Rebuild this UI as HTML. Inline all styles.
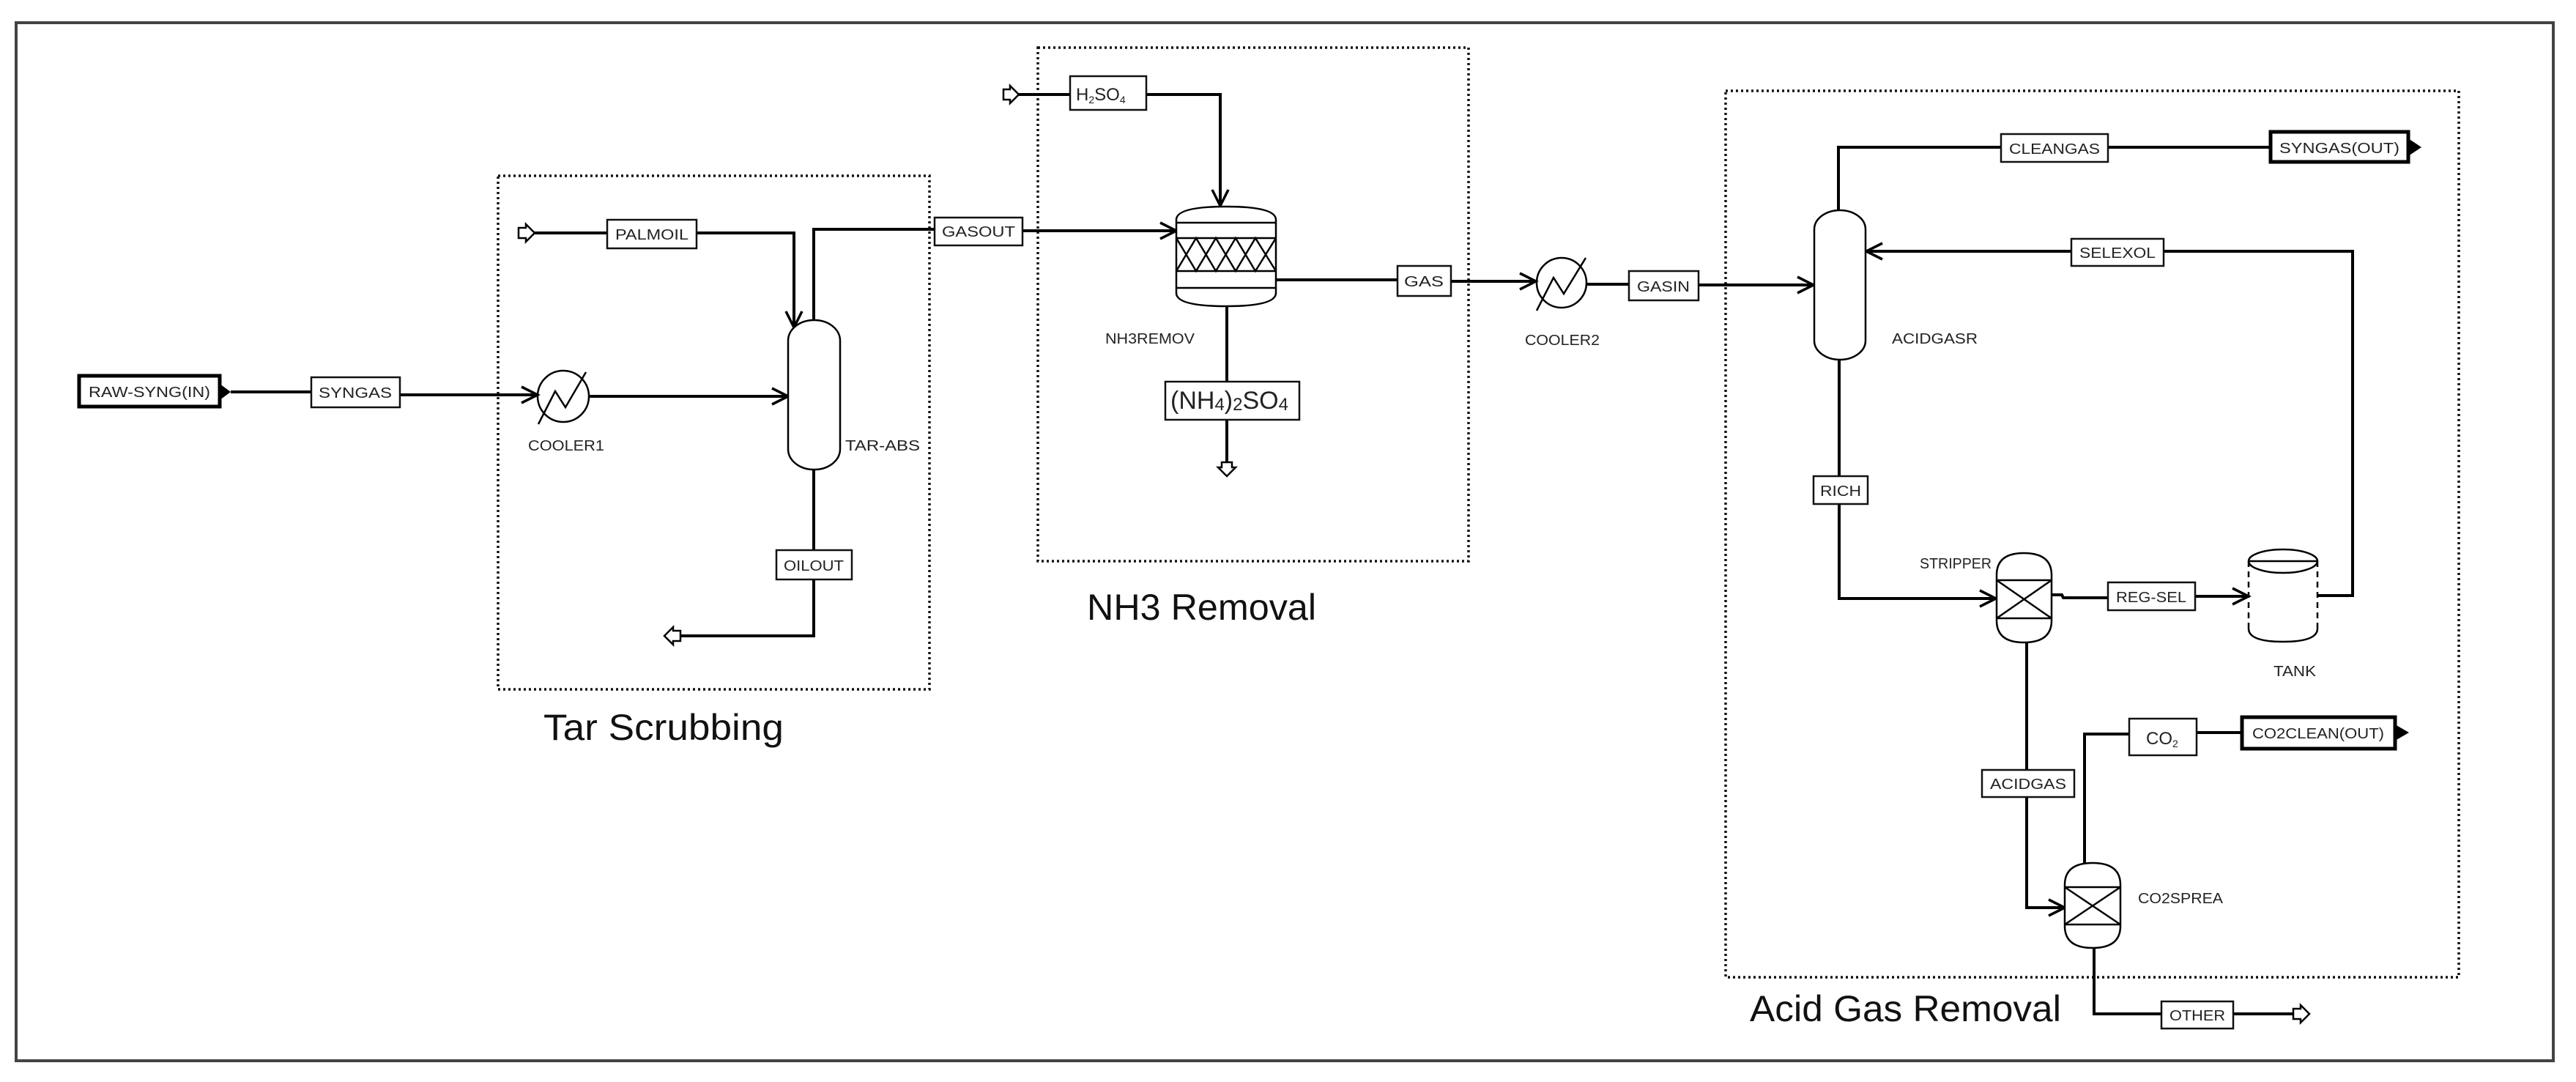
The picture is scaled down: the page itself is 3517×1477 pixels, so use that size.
<!DOCTYPE html>
<html><head><meta charset="utf-8"><style>
html,body{margin:0;padding:0;background:#fff;}
svg{display:block;}
text{font-family:"Liberation Sans",Arial,sans-serif;fill:#222;}
.s{font-size:20px;}
.big{font-size:50px;fill:#111;}
</style></head><body>
<svg width="3517" height="1477" viewBox="0 0 3517 1477" xmlns="http://www.w3.org/2000/svg">
<defs>
<marker id="a" markerWidth="30" markerHeight="30" refX="26" refY="15" orient="auto" markerUnits="userSpaceOnUse">
<path d="M4,4 L26,15 L4,26" fill="none" stroke="#000" stroke-width="3.5"/>
</marker>
</defs>
<rect width="3517" height="1477" fill="#fff"/>
<!-- outer border -->
<rect x="22" y="31" width="3464" height="1417" fill="none" stroke="#444" stroke-width="4"/>
<!-- dashed region boxes -->
<g fill="none" stroke="#111" stroke-width="3.5" stroke-dasharray="3,4">
<rect x="680" y="240" width="589" height="701"/>
<rect x="1417" y="65" width="588" height="701"/>
<rect x="2356" y="124" width="1001" height="1210"/>
</g>
<g stroke="#000" stroke-width="4" fill="none">
<!-- RAW-SYNG -> SYNGAS -> COOLER1 -->
<line x1="315" y1="535" x2="425" y2="535"/>
<line x1="546" y1="539" x2="734" y2="539" marker-end="url(#a)"/>
<line x1="805" y1="541" x2="1076" y2="541" marker-end="url(#a)"/>
<!-- PALMOIL -->
<line x1="730" y1="318" x2="829" y2="318"/>
<polyline points="951,318 1084,318 1084,447" marker-end="url(#a)"/>
<!-- GASOUT -->
<polyline points="1111,437 1111,313 1276,313"/>
<line x1="1396" y1="315" x2="1606" y2="315" marker-end="url(#a)"/>
<!-- OILOUT -->
<polyline points="1111,641 1111,751"/>
<polyline points="1111,791 1111,868 929,868"/>
<!-- H2SO4 -->
<line x1="1390" y1="129" x2="1461" y2="129"/>
<polyline points="1565,129 1666,129 1666,281" marker-end="url(#a)"/>
<!-- GAS -->
<line x1="1742" y1="382" x2="1908" y2="382"/>
<line x1="1981" y1="384" x2="2097" y2="384" marker-end="url(#a)"/>
<line x1="2166" y1="388" x2="2224" y2="388"/>
<line x1="2319" y1="389" x2="2476" y2="389" marker-end="url(#a)"/>
<!-- NH4 bottom -->
<line x1="1675" y1="418" x2="1675" y2="521"/>
<line x1="1675" y1="573" x2="1675" y2="632"/>
<!-- CLEANGAS -->
<polyline points="2510,287 2510,201 2732,201"/>
<line x1="2878" y1="201" x2="3100" y2="201"/>
<!-- SELEXOL -->
<polyline points="3164,813 3212,813 3212,343 2954,343"/>
<line x1="2828" y1="343" x2="2548" y2="343" marker-end="url(#a)"/>
<!-- RICH -->
<line x1="2511" y1="491" x2="2511" y2="650"/>
<polyline points="2511,688 2511,817 2725,817" marker-end="url(#a)"/>
<!-- REG-SEL -->
<polyline points="2801,812 2815,812 2817,816 2878,816"/>
<line x1="2997" y1="814" x2="3070" y2="814" marker-end="url(#a)"/>
<!-- ACIDGAS -->
<line x1="2767" y1="877" x2="2767" y2="1051"/>
<polyline points="2767,1088 2767,1239 2819,1239" marker-end="url(#a)"/>
<!-- CO2 -->
<polyline points="2846,1178 2846,1002 2907,1002"/>
<line x1="2999" y1="1000" x2="3061" y2="1000"/>
<!-- OTHER -->
<polyline points="2859,1294 2859,1384 2951,1384"/>
<line x1="3049" y1="1384" x2="3131" y2="1384"/>
</g>
<!-- hollow feed arrows -->
<g fill="#fff" stroke="#000" stroke-width="2.5">
<path d="M708,311 L718,311 L718,306 L730,318 L718,330 L718,325 L708,325 Z"/>
<path d="M1370,122 L1379,122 L1379,117 L1391,129 L1379,141 L1379,136 L1370,136 Z"/>
<path d="M929,861 L919,861 L919,856 L907,868 L919,880 L919,875 L929,875 Z"/>
<path d="M1668,631 L1668,638 L1663,638 L1675,650 L1687,638 L1682,638 L1682,631 Z"/>
<path d="M3131,1377 L3141,1377 L3141,1372 L3153,1384 L3141,1396 L3141,1391 L3131,1391 Z"/>
</g>
<!-- stream boxes -->
<g fill="#fff" stroke="#111" stroke-width="2.5">
<rect x="425" y="515" width="121" height="41"/>
<rect x="829" y="300" width="122" height="39"/>
<rect x="1276" y="297" width="120" height="38"/>
<rect x="1060" y="751" width="103" height="40"/>
<rect x="1461" y="104" width="104" height="46"/>
<rect x="1591" y="521" width="183" height="52"/>
<rect x="1908" y="363" width="73" height="41"/>
<rect x="2224" y="370" width="95" height="40"/>
<rect x="2732" y="183" width="146" height="38"/>
<rect x="2828" y="326" width="126" height="37"/>
<rect x="2476" y="650" width="74" height="38"/>
<rect x="2878" y="795" width="119" height="38"/>
<rect x="2706" y="1051" width="126" height="37"/>
<rect x="2907" y="981" width="92" height="50"/>
<rect x="2951" y="1367" width="98" height="37"/>
</g>
<!-- terminals -->
<g fill="#fff" stroke="#000" stroke-width="5">
<rect x="108" y="513" width="192" height="42"/>
<rect x="3100" y="180" width="188" height="41"/>
<rect x="3061" y="979" width="209" height="43"/>
</g>
<g fill="#000">
<path d="M300,524 L315,535 L300,546 Z"/>
<path d="M3288,189 L3306,201 L3288,213 Z"/>
<path d="M3270,989 L3289,1000 L3270,1011 Z"/>
</g>
<!-- coolers -->
<g fill="none" stroke="#000" stroke-width="2.5">
<circle cx="769" cy="541" r="35"/>
<polyline points="735,579 758,534 772,556 800,508"/>
<circle cx="2132" cy="386" r="34"/>
<polyline points="2098,424 2121,379 2135,401 2165,352"/>
</g>
<!-- columns -->
<g fill="#fff" stroke="#000" stroke-width="2.5">
<rect x="1076" y="437" width="71" height="204" rx="35" ry="28"/>
<rect x="2477" y="287" width="70" height="204" rx="35" ry="26"/>
</g>
<!-- NH3 reactor -->
<g fill="#fff" stroke="#000" stroke-width="2.5">
<path d="M1606,300 Q1606,282 1674,282 Q1742,282 1742,300 L1742,400 Q1742,418 1674,418 Q1606,418 1606,400 Z"/>
<line x1="1606" y1="304" x2="1742" y2="304"/>
<line x1="1606" y1="325" x2="1742" y2="325"/>
<line x1="1606" y1="370" x2="1742" y2="370"/>
<line x1="1606" y1="393" x2="1742" y2="393"/>
<polyline fill="none" points="1606,325 1633,370 1660,325 1687,370 1714,325 1742,370"/>
<polyline fill="none" points="1606,370 1633,325 1660,370 1687,325 1714,370 1742,325"/>
</g>
<!-- stripper & CO2SPREA -->
<g fill="#fff" stroke="#000" stroke-width="2.5">
<path d="M2726,785 Q2726,755 2763,755 Q2801,755 2801,785 L2801,847 Q2801,877 2763,877 Q2726,877 2726,847 Z"/>
<line x1="2726" y1="792" x2="2801" y2="792"/>
<line x1="2726" y1="844" x2="2801" y2="844"/>
<line x1="2726" y1="792" x2="2801" y2="844"/>
<line x1="2801" y1="792" x2="2726" y2="844"/>
<path d="M2819,1208 Q2819,1178 2857,1178 Q2895,1178 2895,1208 L2895,1264 Q2895,1294 2857,1294 Q2819,1294 2819,1264 Z"/>
<line x1="2819" y1="1211" x2="2895" y2="1211"/>
<line x1="2819" y1="1262" x2="2895" y2="1262"/>
<line x1="2819" y1="1211" x2="2895" y2="1262"/>
<line x1="2895" y1="1211" x2="2819" y2="1262"/>
</g>
<!-- tank -->
<g fill="none" stroke="#000" stroke-width="2.5">
<ellipse cx="3117" cy="766" rx="47" ry="16"/>
<line x1="3070" y1="766" x2="3164" y2="766"/>
<path d="M3070,766 L3070,858" stroke-dasharray="8,6"/>
<path d="M3164,766 L3164,858" stroke-dasharray="8,6"/>
<path d="M3070,858 Q3070,876 3117,876 Q3164,876 3164,858"/>
</g>
<!-- labels in boxes -->
<g class="s" text-anchor="middle">
<text x="204" y="542" textLength="166" lengthAdjust="spacingAndGlyphs">RAW-SYNG(IN)</text>
<text x="485" y="543" textLength="100" lengthAdjust="spacingAndGlyphs">SYNGAS</text>
<text x="890" y="327" textLength="100" lengthAdjust="spacingAndGlyphs">PALMOIL</text>
<text x="1336" y="323" textLength="100" lengthAdjust="spacingAndGlyphs">GASOUT</text>
<text x="1111" y="779" textLength="82" lengthAdjust="spacingAndGlyphs">OILOUT</text>
<text x="1944" y="391" textLength="54" lengthAdjust="spacingAndGlyphs">GAS</text>
<text x="2271" y="398" textLength="72" lengthAdjust="spacingAndGlyphs">GASIN</text>
<text x="2805" y="210" textLength="124" lengthAdjust="spacingAndGlyphs">CLEANGAS</text>
<text x="3194" y="209" textLength="164" lengthAdjust="spacingAndGlyphs">SYNGAS(OUT)</text>
<text x="2891" y="352" textLength="104" lengthAdjust="spacingAndGlyphs">SELEXOL</text>
<text x="2513" y="677" textLength="56" lengthAdjust="spacingAndGlyphs">RICH</text>
<text x="2937" y="822" textLength="96" lengthAdjust="spacingAndGlyphs">REG-SEL</text>
<text x="2769" y="1077" textLength="104" lengthAdjust="spacingAndGlyphs">ACIDGAS</text>
<text x="3165" y="1008" textLength="180" lengthAdjust="spacingAndGlyphs">CO2CLEAN(OUT)</text>
<text x="3000" y="1393" textLength="76" lengthAdjust="spacingAndGlyphs">OTHER</text>
</g>
<text x="1469" y="137" style="font-size:24px">H<tspan style="font-size:14px" dy="4">2</tspan><tspan dy="-4">SO</tspan><tspan style="font-size:14px" dy="4">4</tspan></text>
<text x="1598" y="558" style="font-size:34px">(NH<tspan style="font-size:24px" dy="2">4</tspan><tspan dy="-2">)</tspan><tspan style="font-size:24px" dy="2">2</tspan><tspan dy="-2">SO</tspan><tspan style="font-size:24px" dy="2">4</tspan></text>
<text x="2930" y="1016" style="font-size:24px">CO<tspan style="font-size:14px" dy="4">2</tspan></text>
<!-- equipment labels -->
<g class="s">
<text x="721" y="615" textLength="104" lengthAdjust="spacingAndGlyphs">COOLER1</text>
<text x="1154" y="615" textLength="102" lengthAdjust="spacingAndGlyphs">TAR-ABS</text>
<text x="1509" y="469" textLength="122" lengthAdjust="spacingAndGlyphs">NH3REMOV</text>
<text x="2082" y="471" textLength="102" lengthAdjust="spacingAndGlyphs">COOLER2</text>
<text x="2583" y="469" textLength="117" lengthAdjust="spacingAndGlyphs">ACIDGASR</text>
<text x="2621" y="776" textLength="98" lengthAdjust="spacingAndGlyphs">STRIPPER</text>
<text x="3104" y="923" textLength="58" lengthAdjust="spacingAndGlyphs">TANK</text>
<text x="2919" y="1233" textLength="116" lengthAdjust="spacingAndGlyphs">CO2SPREA</text>
</g>
<!-- region titles -->
<text class="big" x="742" y="1010" textLength="328" lengthAdjust="spacingAndGlyphs">Tar Scrubbing</text>
<text class="big" x="1484" y="846" textLength="313" lengthAdjust="spacingAndGlyphs">NH3 Removal</text>
<text class="big" x="2389" y="1394" textLength="425" lengthAdjust="spacingAndGlyphs">Acid Gas Removal</text>
</svg>
</body></html>
